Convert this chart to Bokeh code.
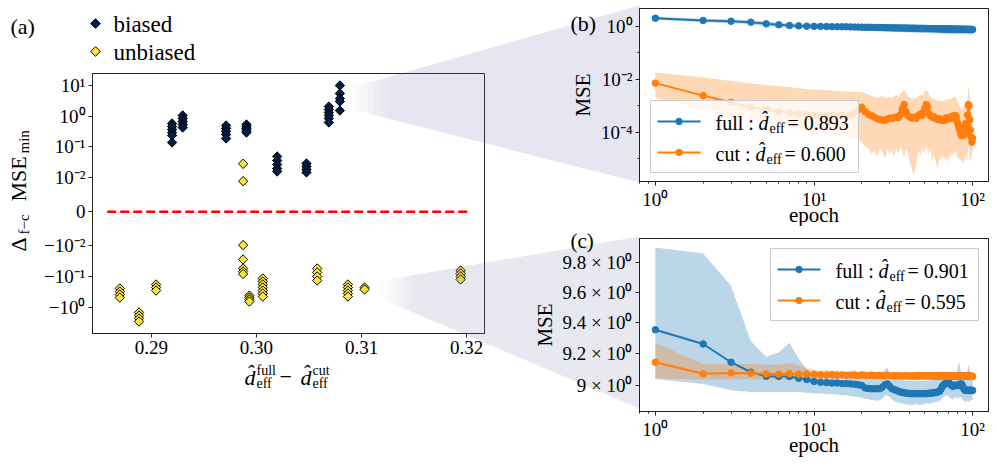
import numpy as np
from bokeh.plotting import figure
from bokeh.models import ColumnDataSource, FixedTicker, Range1d
from bokeh.layouts import row, column
from bokeh.embed import file_html
from bokeh.resources import INLINE
from bokeh.core.properties import value

FONT = "Liberation Serif"

# ---------------- panel (a) data ----------------
biased_dx = [0.29197, 0.29298, 0.29711, 0.29905, 0.30197, 0.30476, 0.30689, 0.30794]
biased_delta = [
    [0.578, 0.461, 0.369, 0.294, 0.235, 0.139],
    [1.055, 0.842, 0.672, 0.537, 0.428],
    [0.498, 0.398, 0.318, 0.254, 0.188],
    [0.537, 0.461, 0.398, 0.342, 0.294],
    [0.0486, 0.0360, 0.0267, 0.0198, 0.0158],
    [0.0288, 0.0230, 0.0184, 0.0147],
    [2.07, 1.65, 1.32, 1.055, 0.842, 0.624],
    [10.0, 5.49, 3.78, 3.01, 1.53],
]
unbiased_dx = [0.28700, 0.28883, 0.29045, 0.29873, 0.29873, 0.29933, 0.30060,
               0.30578, 0.30870, 0.31029, 0.31943]
unbiased_delta = [
    [-0.245, -0.310, -0.387, -0.486],
    [-1.486, -1.862, -2.33, -2.92],
    [-0.182, -0.228, -0.287],
    [0.0281, 0.00895],
    [-0.0098, -0.0279, -0.0548, -0.0687, -0.0828],
    [-0.418, -0.486, -0.564, -0.655],
    [-0.116, -0.146, -0.182, -0.228, -0.287, -0.358, -0.450],
    [-0.0548, -0.074, -0.100, -0.135],
    [-0.182, -0.228, -0.287, -0.358, -0.450],
    [-0.228, -0.265],
    [-0.0637, -0.080, -0.100, -0.125],
]
a_series = ["biased", "unbiased"]
a_xticks = [0.29, 0.30, 0.31, 0.32]
a_xtick_labels = ["0.29", "0.30", "0.31", "0.32"]
a_yticks = [10, 1, 0.1, 0.01, 0, -0.01, -0.1, -1]
a_ytick_labels = ["10¹", "10⁰", "10⁻¹", "10⁻²", "0", "−10⁻²", "−10⁻¹", "−10⁰"]

# ---------------- panels (b), (c) data ----------------
epochs = list(range(1, 101))
epoch_ticks = [1, 10, 100]
epoch_tick_labels = ["10⁰", "10¹", "10²"]
epoch_minor = [0.8, 0.9, 2, 3, 4, 5, 6, 7, 8, 9, 20, 30, 40, 50, 60, 70, 80, 90]

full_b = [
    2.00, 1.64, 1.54, 1.42, 1.23, 1.13, 1.06, 1.03, 1.00, 0.99,
    0.98, 0.97, 0.96, 0.955, 0.95, 0.945, 0.94, 0.93, 0.925, 0.92,
    0.915, 0.91, 0.905, 0.90, 0.895, 0.89, 0.885, 0.88, 0.875, 0.87,
    0.868, 0.865, 0.862, 0.86, 0.857, 0.855, 0.852, 0.85, 0.847, 0.845,
    0.842, 0.84, 0.838, 0.835, 0.832, 0.83, 0.828, 0.825, 0.822, 0.82,
    0.818, 0.816, 0.814, 0.812, 0.81, 0.808, 0.806, 0.804, 0.802, 0.80,
    0.798, 0.796, 0.794, 0.792, 0.79, 0.789, 0.788, 0.786, 0.785, 0.784,
    0.782, 0.781, 0.78, 0.778, 0.777, 0.776, 0.774, 0.773, 0.772, 0.77,
    0.769, 0.768, 0.767, 0.766, 0.765, 0.764, 0.763, 0.762, 0.761, 0.76,
    0.759, 0.758, 0.757, 0.756, 0.755, 0.754, 0.753, 0.752, 0.751, 0.75]
full_b_lo = [
    1.75, 1.40, 1.30, 1.18, 1.00, 0.92, 0.87, 0.84, 0.82, 0.81,
    0.80, 0.79, 0.78, 0.77, 0.76, 0.75, 0.74, 0.73, 0.72, 0.71,
    0.70, 0.69, 0.68, 0.67, 0.66, 0.65, 0.64, 0.63, 0.63, 0.62,
    0.62, 0.61, 0.61, 0.60, 0.60, 0.59, 0.59, 0.59, 0.58, 0.58,
    0.58, 0.57, 0.57, 0.57, 0.56, 0.56, 0.56, 0.56, 0.55, 0.55,
    0.55, 0.55, 0.54, 0.54, 0.54, 0.54, 0.54, 0.53, 0.53, 0.53,
    0.53, 0.53, 0.53, 0.52, 0.52, 0.52, 0.52, 0.52, 0.52, 0.52,
    0.51, 0.51, 0.51, 0.51, 0.51, 0.51, 0.51, 0.51, 0.51, 0.50,
    0.50, 0.50, 0.50, 0.50, 0.50, 0.50, 0.50, 0.50, 0.50, 0.50,
    0.50, 0.50, 0.49, 0.49, 0.49, 0.49, 0.49, 0.49, 0.49, 0.49]
full_b_hi = [
    2.25, 1.90, 1.80, 1.68, 1.48, 1.36, 1.27, 1.23, 1.20, 1.19,
    1.18, 1.18, 1.17, 1.17, 1.17, 1.16, 1.16, 1.16, 1.15, 1.15,
    1.15, 1.15, 1.14, 1.14, 1.14, 1.14, 1.13, 1.13, 1.13, 1.13,
    1.13, 1.12, 1.12, 1.12, 1.12, 1.12, 1.12, 1.11, 1.11, 1.11,
    1.11, 1.11, 1.11, 1.11, 1.10, 1.10, 1.10, 1.10, 1.10, 1.10,
    1.10, 1.10, 1.10, 1.09, 1.09, 1.09, 1.09, 1.09, 1.09, 1.09,
    1.09, 1.09, 1.09, 1.08, 1.08, 1.08, 1.08, 1.08, 1.08, 1.08,
    1.08, 1.08, 1.08, 1.08, 1.07, 1.07, 1.07, 1.07, 1.07, 1.07,
    1.07, 1.07, 1.07, 1.07, 1.07, 1.06, 1.06, 1.06, 1.06, 1.06,
    1.06, 1.06, 1.06, 1.06, 1.06, 1.06, 1.05, 1.05, 1.05, 1.05]
cut_b = [
    7.1e-3, 2.4e-3, 1.35e-3, 8.8e-4, 7.2e-4, 6.0e-4, 5.4e-4, 4.9e-4, 4.6e-4, 4.4e-4,
    4.3e-4, 4.2e-4, 4.4e-4, 4.1e-4, 4.5e-4, 4.0e-4, 4.6e-4, 5.2e-4, 7.0e-4, 8.8e-4,
    6.0e-4, 4.8e-4, 4.3e-4, 3.7e-4, 3.2e-4, 3.0e-4, 2.9e-4, 2.8e-4, 3.1e-4, 3.4e-4,
    3.3e-4, 3.6e-4, 3.7e-4, 3.5e-4, 4.6e-4, 7.5e-4, 1.1e-3, 6.0e-4, 4.3e-4, 3.8e-4,
    3.5e-4, 3.4e-4, 3.7e-4, 3.3e-4, 4.0e-4, 4.5e-4, 4.9e-4, 4.4e-4, 5.5e-4, 8.0e-4,
    1.1e-3, 9.0e-4, 5.0e-4, 4.3e-4, 4.0e-4, 3.6e-4, 3.9e-4, 3.4e-4, 3.2e-4, 3.0e-4,
    3.3e-4, 2.9e-4, 3.1e-4, 2.8e-4, 3.0e-4, 2.8e-4, 3.2e-4, 3.5e-4, 3.0e-4, 3.4e-4,
    3.6e-4, 3.3e-4, 3.4e-4, 3.9e-4, 3.5e-4, 4.2e-4, 3.8e-4, 4.3e-4, 3.7e-4, 2.4e-4,
    1.9e-4, 1.5e-4, 1.2e-4, 9.0e-5, 7.5e-5, 8.5e-5, 7.5e-5, 1.1e-4, 1.6e-4, 2.1e-4,
    1.5e-4, 9.0e-5, 4.5e-4, 1.1e-3, 1.0e-3, 3.0e-4, 1.2e-4, 6.5e-5, 4.2e-5, 5.9e-5]
cut_b_hi = [
    1.8e-2, 1.15e-2, 8.5e-3, 7.0e-3, 6.0e-3, 5.4e-3, 5.0e-3, 4.6e-3, 4.3e-3, 4.1e-3,
    3.9e-3, 3.8e-3, 3.7e-3, 3.6e-3, 3.5e-3, 3.4e-3, 3.4e-3, 3.3e-3, 3.3e-3, 3.2e-3,
    3.0e-3, 2.6e-3, 2.4e-3, 2.2e-3, 2.0e-3, 2.1e-3, 2.3e-3, 2.0e-3, 1.9e-3, 2.2e-3,
    2.0e-3, 2.4e-3, 2.6e-3, 2.2e-3, 2.8e-3, 3.4e-3, 3.8e-3, 3.0e-3, 2.4e-3, 2.1e-3,
    1.9e-3, 1.8e-3, 2.0e-3, 1.9e-3, 2.2e-3, 2.5e-3, 2.6e-3, 2.4e-3, 2.9e-3, 3.4e-3,
    3.8e-3, 3.5e-3, 2.7e-3, 2.2e-3, 2.0e-3, 1.8e-3, 1.9e-3, 1.7e-3, 1.6e-3, 1.5e-3,
    1.6e-3, 1.5e-3, 1.6e-3, 1.4e-3, 1.5e-3, 1.5e-3, 1.7e-3, 1.8e-3, 1.6e-3, 1.7e-3,
    1.8e-3, 1.7e-3, 1.8e-3, 2.0e-3, 1.9e-3, 2.2e-3, 2.0e-3, 2.3e-3, 2.0e-3, 1.5e-3,
    1.2e-3, 1.0e-3, 9.0e-4, 8.0e-4, 7.0e-4, 8.0e-4, 7.5e-4, 9.0e-4, 1.1e-3, 1.4e-3,
    1.2e-3, 1.0e-3, 2.5e-3, 5.0e-3, 4.5e-3, 2.0e-3, 9.0e-4, 6.0e-4, 4.0e-4, 4.5e-4]
cut_b_lo = [
    2.0e-3, 7.0e-4, 4.0e-4, 2.8e-4, 2.2e-4, 1.8e-4, 1.5e-4, 1.3e-4, 1.1e-4, 1.0e-4,
    9.0e-5, 8.5e-5, 8.0e-5, 7.5e-5, 7.0e-5, 6.5e-5, 6.0e-5, 5.5e-5, 5.0e-5, 4.5e-5,
    3.0e-5, 2.5e-5, 1.5e-5, 2.0e-5, 1.2e-5, 2.5e-5, 1.8e-5, 1.0e-5, 2.2e-5, 1.5e-5,
    2.0e-5, 1.2e-5, 2.5e-5, 1.5e-5, 3.0e-5, 2.0e-5, 1.0e-5, 2.5e-5, 1.8e-5, 8.0e-6,
    5.0e-6, 3.0e-6, 2.8e-6, 6.0e-6, 1.5e-5, 2.0e-5, 1.2e-5, 2.5e-5, 1.8e-5, 2.2e-5,
    3.0e-5, 2.0e-5, 1.5e-5, 2.5e-5, 1.2e-5, 8.0e-6, 1.5e-5, 1.0e-5, 6.0e-6, 4.3e-6,
    8.0e-6, 1.2e-5, 9.0e-6, 1.5e-5, 1.0e-5, 1.3e-5, 8.0e-6, 1.1e-5, 9.0e-6, 7.4e-6,
    1.2e-5, 1.5e-5, 1.0e-5, 1.8e-5, 1.3e-5, 2.0e-5, 1.5e-5, 2.2e-5, 1.8e-5, 1.2e-5,
    9.0e-6, 1.2e-5, 8.0e-6, 1.0e-5, 7.0e-6, 9.0e-6, 6.0e-6, 8.0e-6, 1.0e-5, 1.4e-5,
    1.0e-5, 8.0e-6, 1.5e-5, 3.0e-5, 2.5e-5, 1.2e-5, 8.0e-6, 1.0e-5, 1.5e-5, 2.0e-5]
b_yticks = [1, 0.01, 0.0001]
b_ytick_labels = ["10⁰", "10⁻²", "10⁻⁴"]
b_yminor = [0.1, 0.001, 0.00001]

full_c = [
    9.353, 9.262, 9.146, 9.083, 9.058, 9.056, 9.056, 9.045, 9.037, 9.025,
    9.020, 9.018, 9.015, 9.015, 9.012, 9.012, 9.010, 9.008, 9.005, 9.000,
    8.985, 8.982, 8.980, 8.980, 8.980, 8.980, 8.990, 9.005, 9.010, 8.995,
    8.980, 8.975, 8.970, 8.965, 8.960, 8.958, 8.955, 8.953, 8.952, 8.950,
    8.950, 8.950, 8.949, 8.950, 8.950, 8.950, 8.949, 8.950, 8.950, 8.950,
    8.950, 8.951, 8.952, 8.952, 8.953, 8.955, 8.955, 8.956, 8.958, 8.960,
    8.962, 8.965, 8.975, 8.990, 9.000, 9.005, 9.010, 9.015, 9.020, 9.020,
    9.015, 9.010, 9.005, 9.000, 8.995, 8.998, 9.000, 9.002, 9.000, 9.000,
    9.000, 9.005, 9.008, 9.010, 9.010, 9.000, 8.990, 8.980, 8.975, 8.970,
    8.970, 8.972, 8.970, 8.968, 8.970, 8.972, 8.970, 8.970, 8.970, 8.970]
full_c_hi = [
    9.900, 9.860, 9.640, 9.280, 9.180, 9.210, 9.270, 9.170, 9.100, 9.070,
    9.060, 9.060, 9.065, 9.060, 9.060, 9.065, 9.060, 9.060, 9.055, 9.055,
    9.050, 9.050, 9.050, 9.050, 9.055, 9.060, 9.070, 9.100, 9.110, 9.080,
    9.050, 9.045, 9.040, 9.040, 9.035, 9.035, 9.030, 9.030, 9.030, 9.030,
    9.030, 9.030, 9.030, 9.030, 9.030, 9.030, 9.030, 9.030, 9.030, 9.030,
    9.030, 9.030, 9.030, 9.035, 9.035, 9.040, 9.040, 9.040, 9.045, 9.045,
    9.050, 9.050, 9.055, 9.060, 9.070, 9.075, 9.080, 9.080, 9.085, 9.080,
    9.075, 9.070, 9.065, 9.060, 9.060, 9.065, 9.070, 9.075, 9.080, 9.100,
    9.130, 9.150, 9.120, 9.090, 9.080, 9.070, 9.060, 9.055, 9.050, 9.050,
    9.050, 9.060, 9.090, 9.120, 9.130, 9.080, 9.050, 9.050, 9.050, 9.050]
full_c_lo = [
    9.040, 9.010, 8.970, 8.960, 8.960, 8.960, 8.960, 8.960, 8.955, 8.950,
    8.950, 8.948, 8.946, 8.945, 8.940, 8.940, 8.935, 8.930, 8.930, 8.925,
    8.920, 8.915, 8.910, 8.910, 8.905, 8.910, 8.920, 8.935, 8.940, 8.930,
    8.915, 8.905, 8.900, 8.895, 8.890, 8.890, 8.885, 8.885, 8.880, 8.880,
    8.880, 8.880, 8.880, 8.885, 8.885, 8.880, 8.880, 8.885, 8.885, 8.885,
    8.890, 8.890, 8.885, 8.890, 8.890, 8.890, 8.895, 8.895, 8.900, 8.900,
    8.900, 8.905, 8.910, 8.920, 8.925, 8.930, 8.935, 8.935, 8.940, 8.935,
    8.930, 8.925, 8.920, 8.915, 8.915, 8.920, 8.925, 8.930, 8.925, 8.920,
    8.920, 8.925, 8.930, 8.930, 8.925, 8.915, 8.910, 8.905, 8.900, 8.900,
    8.900, 8.905, 8.905, 8.900, 8.900, 8.905, 8.910, 8.910, 8.910, 8.910]
cut_c = [
    9.146, 9.073, 9.079, 9.076, 9.072, 9.072, 9.074, 9.071, 9.072, 9.070,
    9.068, 9.066, 9.069, 9.065, 9.067, 9.064, 9.066, 9.065, 9.063, 9.066,
    9.064, 9.062, 9.065, 9.063, 9.061, 9.064, 9.062, 9.060, 9.063, 9.061,
    9.060, 9.062, 9.059, 9.061, 9.060, 9.058, 9.060, 9.061, 9.059, 9.060,
    9.058, 9.060, 9.059, 9.061, 9.058, 9.060, 9.062, 9.059, 9.060, 9.061,
    9.059, 9.060, 9.058, 9.061, 9.060, 9.062, 9.059, 9.060, 9.058, 9.060,
    9.061, 9.059, 9.060, 9.058, 9.060, 9.062, 9.060, 9.059, 9.061, 9.060,
    9.058, 9.060, 9.061, 9.059, 9.060, 9.062, 9.060, 9.058, 9.060, 9.061,
    9.059, 9.060, 9.058, 9.060, 9.061, 9.059, 9.060, 9.058, 9.060, 9.059,
    9.060, 9.058, 9.060, 9.059, 9.061, 9.060, 9.058, 9.060, 9.057, 9.056]
cut_c_hi = [
    9.268, 9.135, 9.135, 9.135, 9.130, 9.130, 9.140, 9.125, 9.110, 9.100,
    9.090, 9.100, 9.085, 9.095, 9.080, 9.090, 9.085, 9.100, 9.080, 9.090,
    9.085, 9.080, 9.090, 9.080, 9.085, 9.080, 9.085, 9.080, 9.090, 9.085,
    9.080, 9.085, 9.080, 9.090, 9.080, 9.085, 9.080, 9.085, 9.080, 9.080,
    9.085, 9.080, 9.080, 9.085, 9.080, 9.090, 9.080, 9.080, 9.085, 9.080,
    9.080, 9.085, 9.080, 9.080, 9.085, 9.080, 9.090, 9.080, 9.080, 9.085,
    9.080, 9.080, 9.085, 9.080, 9.080, 9.085, 9.080, 9.095, 9.080, 9.085,
    9.080, 9.085, 9.080, 9.080, 9.090, 9.080, 9.085, 9.080, 9.080, 9.085,
    9.080, 9.090, 9.080, 9.085, 9.080, 9.080, 9.085, 9.080, 9.090, 9.080,
    9.085, 9.080, 9.080, 9.095, 9.085, 9.080, 9.085, 9.080, 9.080, 9.080]
cut_c_lo = [
    9.045, 9.037, 9.037, 9.038, 9.038, 9.038, 9.039, 9.039, 9.040, 9.040,
    9.042, 9.043, 9.044, 9.044, 9.045, 9.045, 9.045, 9.044, 9.045, 9.046,
    9.045, 9.044, 9.045, 9.046, 9.045, 9.044, 9.045, 9.045, 9.046, 9.045,
    9.044, 9.045, 9.045, 9.046, 9.045, 9.044, 9.045, 9.045, 9.046, 9.045,
    9.045, 9.044, 9.045, 9.046, 9.045, 9.045, 9.044, 9.045, 9.046, 9.045,
    9.045, 9.044, 9.045, 9.045, 9.046, 9.045, 9.044, 9.045, 9.045, 9.046,
    9.045, 9.044, 9.045, 9.046, 9.045, 9.045, 9.044, 9.045, 9.046, 9.045,
    9.045, 9.044, 9.045, 9.045, 9.046, 9.045, 9.044, 9.045, 9.046, 9.045,
    9.045, 9.044, 9.045, 9.045, 9.046, 9.045, 9.044, 9.045, 9.045, 9.046,
    9.045, 9.044, 9.045, 9.045, 9.046, 9.045, 9.044, 9.045, 9.045, 9.045]
c_yticks = [9.0, 9.2, 9.4, 9.6, 9.8]
c_ytick_labels = ["9 × 10⁰", "9.2 × 10⁰", "9.4 × 10⁰", "9.6 × 10⁰", "9.8 × 10⁰"]

legend_b = [("full : ", "0.893"), ("cut : ", "0.600")]
legend_c = [("full : ", "0.901"), ("cut : ", "0.595")]

BLUE = "#1f77b4"
ORANGE = "#ff7f0e"
NAVY = "#00204c"
YELLOW = "#fde733"
CONE_COLOR = "#8a8ac6"
CONE_ALPHA = 0.30
TEXT_SHIFT = 0.24   # compensates the text glyph baseline placement (fraction of size)

LINTHRESH = 0.01
LINSCALE = 1.0 / (1.0 - 1.0 / 10.0)


def symlog(v):
    v = np.asarray(v, dtype=float)
    a = np.abs(v)
    big = np.sign(v) * (LINSCALE + np.log10(np.maximum(a, 1e-300) / LINTHRESH))
    return np.where(a <= LINTHRESH, v / LINTHRESH * LINSCALE, big)


class Frame:
    """Maps page pixel positions (layout only) to a figure's data space."""

    def __init__(self, p, left, top, width, height, xr, yr, xlog=False, ylog=False):
        self.p, self.left, self.top, self.w, self.h = p, left, top, width, height
        self.xr, self.yr, self.xlog, self.ylog = xr, yr, xlog, ylog

    def _m(self, f, r, log):
        if log:
            a, b = np.log10(r[0]), np.log10(r[1])
            return float(10 ** (a + f * (b - a)))
        return float(r[0] + f * (r[1] - r[0]))

    def x(self, px):
        return self._m((px - self.left) / self.w, self.xr, self.xlog)

    def y(self, py):
        return self._m((self.top + self.h - py) / self.h, self.yr, self.ylog)

    def text(self, px, py, s, size, fstyle="normal", angle=0.0, align="left",
             level="overlay"):
        d = TEXT_SHIFT * size
        if angle:
            px -= d
        else:
            py -= d
        self.p.text(x=[self.x(px)], y=[self.y(py)], text=[s], text_font=value(FONT),
                    text_font_size=value(f"{size}px"), text_font_style=fstyle,
                    text_align=align, text_baseline="alphabetic", angle=angle,
                    text_color="black", level=level)

    def diamond(self, px, py, r, color):
        self.p.patch(x=[self.x(px), self.x(px + r), self.x(px), self.x(px - r)],
                     y=[self.y(py - r), self.y(py), self.y(py + r), self.y(py)],
                     fill_color=color, line_color="black", line_width=1, level="overlay")

    def cone(self, x0, x1, t0, b0, t1, b1, xa, xb, level, n=45):
        def top(x):
            return t0 + (t1 - t0) * (x - x0) / (x1 - x0)

        def bot(x):
            return b0 + (b1 - b0) * (x - x0) / (x1 - x0)

        def prof(x):
            u = x - x0
            return CONE_ALPHA * (0.55 * min(1.0, u / 40.0) + 0.45 * u / (x1 - x0))

        starts = np.linspace(x0, x1, n + 1)[:-1]
        step = starts[1] - starts[0]
        prev = 0.0
        xs, ys, alphas = [], [], []
        for s in starts:
            target = prof(s + step / 2)
            da = 1 - (1 - target) / (1 - prev)
            prev = target
            lo = max(s, xa)
            if lo >= xb or da <= 0:
                continue
            lo2 = lo - 2 if lo == xa and xa != x0 else lo
            xe = xb + 2 if xb != x1 else xb
            xs.append([self.x(lo2), self.x(xe), self.x(xe), self.x(lo2)])
            ys.append([self.y(top(lo2)), self.y(top(xe)), self.y(bot(xe)), self.y(bot(lo2))])
            alphas.append(da)
        self.p.patches(xs="xs", ys="ys", source=ColumnDataSource(dict(xs=xs, ys=ys, a=alphas)),
                       fill_color=CONE_COLOR, fill_alpha="a", line_color=None, level=level)


def style(p, tick_size="19px"):
    for ax in (p.xaxis[0], p.yaxis[0]):
        ax.axis_line_color = "#222222"
        ax.major_tick_line_color = "#222222"
        ax.minor_tick_line_color = "#222222"
        ax.major_tick_out = 4
        ax.major_tick_in = 0
        ax.minor_tick_out = 2
        ax.minor_tick_in = 0
        ax.major_label_text_font = FONT
        ax.major_label_text_font_size = tick_size
        ax.major_label_text_color = "black"
        ax.major_label_standoff = 3
        ax.axis_label_text_font = FONT
        ax.axis_label_text_font_style = "normal"
        ax.axis_label_text_font_size = "21px"
        ax.axis_label_text_color = "black"
        ax.axis_label_standoff = 3
    p.xgrid.visible = False
    p.ygrid.visible = False
    p.outline_line_color = "#222222"
    p.outline_line_width = 1
    p.background_fill_color = "white"
    p.border_fill_color = "white"


# zoom cones, page coordinates: (x0, x1, top0, bottom0, top1, bottom1)
CB = (348, 639, 88, 108, 5, 182)
CC = (375, 639, 281, 296, 236, 408)
SPLIT = 528

# ---------------- panel (a) ----------------
AX_R = (0.2844, 0.3217)
AY_R = (-3.968, 4.502)
pa = figure(width=528, height=466, output_backend="svg", toolbar_location=None,
            x_range=Range1d(*AX_R), y_range=Range1d(*AY_R),
            min_border_left=92, min_border_right=44, min_border_top=73,
            min_border_bottom=133)
style(pa)
fa = Frame(pa, 92, 73, 392, 260, AX_R, AY_R)

bx = [x for x, ys in zip(biased_dx, biased_delta) for _ in ys]
by = [y for ys in biased_delta for y in ys]
ux = [x for x, ys in zip(unbiased_dx, unbiased_delta) for _ in ys]
uy = [y for ys in unbiased_delta for y in ys]

allx = bx + ux
pa.segment(x0=min(allx) - 0.0012, y0=0, x1=max(allx) + 0.0008, y1=0,
           line_color="red", line_width=2.5, line_dash="9 4")

mk = dict(marker="square", angle=np.pi / 4, size=6.6, line_color="black", line_width=1)
pa.scatter(x="x", y="y", source=ColumnDataSource(dict(x=bx, y=symlog(by))),
           fill_color=NAVY, **mk)
pa.scatter(x="x", y="y", source=ColumnDataSource(dict(x=ux, y=symlog(uy))),
           fill_color=YELLOW, **mk)

pa.xaxis.ticker = FixedTicker(ticks=a_xticks)
pa.xaxis.major_label_overrides = dict(zip(a_xticks, a_xtick_labels))
ypos = [round(float(t), 6) for t in symlog(a_yticks)]
pa.yaxis.ticker = FixedTicker(ticks=ypos)
pa.yaxis.major_label_overrides = dict(zip(ypos, a_ytick_labels))

# legend of (a), above the frame
for (name, col, py) in zip(a_series, [NAVY, YELLOW], [23, 51]):
    fa.diamond(95, py, 4.8, col)
    fa.text(113, py + 6.5, name, 23)

fa.text(10, 31, "(a)", 22)
# y label: Delta_{f-c} MSE_min (rotated)
fa.text(23, 251, "Δ", 22, angle=np.pi / 2)
fa.text(27, 234, "f−c", 15, angle=np.pi / 2)
fa.text(23, 201, "MSE", 22, angle=np.pi / 2)
fa.text(27, 153, "min", 15, angle=np.pi / 2)
# x label: d_eff^full - d_eff^cut
XB = 382
fa.text(244, XB, "d\u0302", 22, fstyle="italic")
fa.text(256, XB - 9, "full", 14)
fa.text(256, XB + 4, "eff", 14)
fa.text(279, XB, "−", 22)
fa.text(300, XB, "d\u0302", 22, fstyle="italic")
fa.text(312, XB - 9, "cut", 14)
fa.text(312, XB + 4, "eff", 14)

fa.cone(*CB, CB[0], SPLIT, "annotation")
fa.cone(*CC, CC[0], SPLIT, "annotation")

EX_R = (10 ** -0.1, 10 ** 2.1)


def mse_panel(height, top_border, bottom_border, yr, full, full_lo, full_hi,
              cut, cut_lo, cut_hi):
    p = figure(width=469, height=height, output_backend="svg", toolbar_location=None,
               x_axis_type="log", y_axis_type="log",
               x_range=Range1d(*EX_R), y_range=Range1d(*yr),
               min_border_left=111, min_border_right=9, min_border_top=top_border,
               min_border_bottom=bottom_border)
    style(p)
    p.varea(x=epochs, y1=full_lo, y2=full_hi, fill_color=BLUE, fill_alpha=0.3)
    p.varea(x=epochs, y1=cut_lo, y2=cut_hi, fill_color=ORANGE, fill_alpha=0.3)
    p.line(epochs, full, line_color=BLUE, line_width=2)
    p.scatter(epochs, full, marker="circle", size=6.5, fill_color=BLUE, line_color=BLUE)
    p.line(epochs, cut, line_color=ORANGE, line_width=2)
    p.scatter(epochs, cut, marker="circle", size=6.5, fill_color=ORANGE, line_color=ORANGE)
    p.xaxis.ticker = FixedTicker(ticks=epoch_ticks, minor_ticks=epoch_minor)
    p.xaxis.major_label_overrides = dict(zip(epoch_ticks, epoch_tick_labels))
    p.yaxis.axis_label = "MSE"
    return p


def legend_box(fr, box_left, box_top, entries):
    """Legend drawn with glyphs (box, key lines, key markers, texts) inside the frame."""
    p = fr.p
    bl, bt, br, bb = box_left, box_top, box_left + 208, box_top + 72
    p.patch(x=[fr.x(bl), fr.x(br), fr.x(br), fr.x(bl)],
            y=[fr.y(bt), fr.y(bt), fr.y(bb), fr.y(bb)],
            fill_color="white", fill_alpha=0.8, line_color="#cccccc", line_width=1)
    tx = bl + 65
    for i, ((prefix, val), col) in enumerate(zip(entries, [BLUE, ORANGE])):
        ry = bt + 21 + i * 31
        p.line(x=[fr.x(bl + 7), fr.x(bl + 50)], y=[fr.y(ry), fr.y(ry)],
               line_color=col, line_width=2)
        p.scatter(x=[fr.x(bl + 28.5)], y=[fr.y(ry)], marker="circle", size=6.5,
                  fill_color=col, line_color=col)
        base = ry + 6.5
        w = 43 if prefix.startswith("full") else 40
        fr.text(tx, base, prefix, 20, level="glyph")
        fr.text(tx + w, base, "d\u0302", 20, fstyle="italic", level="glyph")
        fr.text(tx + w + 11, base + 4, "eff", 14, level="glyph")
        fr.text(tx + w + 29, base, "= " + val, 20, level="glyph")


# ---------------- panel (b) ----------------  (canvas: page y 0..226)
BY_R = (10 ** -5.86, 10 ** 0.668)
pb = mse_panel(226, 8, 45, BY_R, full_b, full_b_lo, full_b_hi, cut_b, cut_b_lo, cut_b_hi)
pb.yaxis.ticker = FixedTicker(ticks=b_yticks, minor_ticks=b_yminor)
pb.yaxis.major_label_overrides = dict(zip(b_yticks, b_ytick_labels))
fb_ = Frame(pb, 639, 8, 349, 173, EX_R, BY_R, True, True)
legend_box(fb_, 650, 100, legend_b)
fb_.text(570, 28, "(b)", 22)
fb_.text(813.5, 219.5, "epoch", 21, align="center")
fb_.cone(*CB, SPLIT, CB[1], "guide")

# ---------------- panel (c) ----------------  (canvas: page y 226..466)
CY_R = (8.84, 9.962)
pc = mse_panel(240, 12, 55, CY_R, full_c, full_c_lo, full_c_hi, cut_c, cut_c_lo, cut_c_hi)
pc.yaxis.ticker = FixedTicker(ticks=c_yticks, minor_ticks=[])
pc.yaxis.major_label_overrides = dict(zip(c_yticks, c_ytick_labels))
fc_ = Frame(pc, 639, 238, 349, 173, EX_R, CY_R, True, True)
legend_box(fc_, 770, 248, legend_c)
fc_.text(570, 246, "(c)", 21)
fc_.text(813.5, 450, "epoch", 21, align="center")
fc_.cone(*CC, SPLIT, CC[1], "guide")

layout = row(pa, column(pb, pc))
open("out.html", "w").write(file_html(layout, INLINE))
